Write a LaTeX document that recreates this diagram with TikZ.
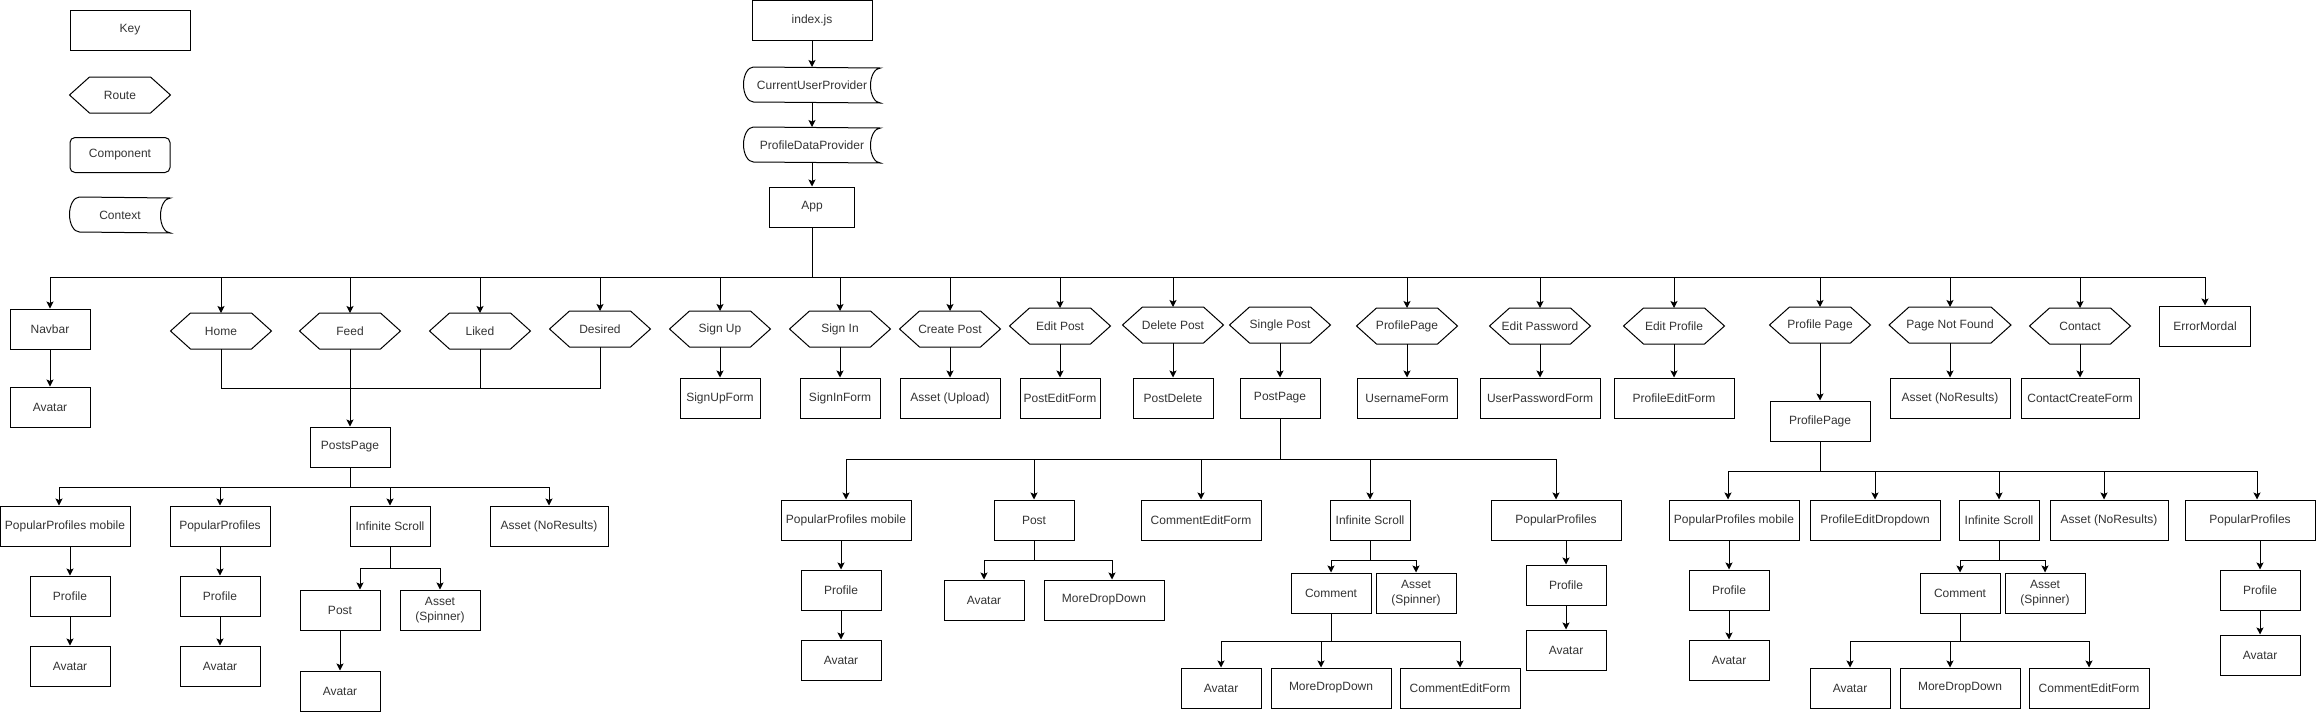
\documentclass[tikz,border=0pt]{standalone}
\usepackage{fontspec}
\setmainfont{Liberation Sans}
\usetikzlibrary{arrows.meta,calc}

\tikzset{
  box/.style={draw, rectangle, minimum width=80pt, minimum height=40pt, inner sep=2pt, align=center},
  route/.style={rectangle, minimum width=100pt, minimum height=35pt, inner sep=1pt,
    append after command={\pgfextra{
      \draw ($(\tikzlastnode.north west)+(20,0)$) -- ($(\tikzlastnode.north east)+(-20,0)$)
        -- (\tikzlastnode.east) -- ($(\tikzlastnode.south east)+(-20,0)$)
        -- ($(\tikzlastnode.south west)+(20,0)$) -- (\tikzlastnode.west) -- cycle;}}},
  comp/.style={draw, rounded corners=5pt, minimum width=100pt, minimum height=35pt},
  ctx/.style={rectangle, minimum width=100pt, minimum height=35pt, inner sep=1pt,
    append after command={\pgfextra{
      \draw ([xshift=10pt]\tikzlastnode.north west)
        arc[start angle=90, end angle=270, x radius=10pt, y radius=17.5pt]
        -- (\tikzlastnode.south east)
        arc[start angle=270, end angle=90, x radius=10pt, y radius=17.5pt] -- cycle;}}},
  arr/.style={-{Stealth[length=7pt,width=7pt,inset=1.5pt]}},
}

\begin{document}
\begin{tikzpicture}[x=1pt, y=-1pt, line width=1pt,
    font=\fontsize{12}{15}\selectfont, text=black!80]
  \useasboundingbox (0,0) rectangle (2316,713);
  % Key
  \node[box, minimum width=120pt] (key) at (130,30) {Key};
  \node[route] (keyroute) at (120,95) {Route};
  \node[comp] (keycomp) at (120,155) {Component};
  \node[ctx] (keyctx) at (120,215) {Context};

  % Entry point and providers
  \node[box, minimum width=120pt] (index) at (812,20) {index.js};
  \node[ctx, minimum width=136pt] (cup) at (812,85) {CurrentUserProvider};
  \node[ctx, minimum width=136pt] (pdp) at (812,145) {ProfileDataProvider};
  \node[box, minimum width=85pt] (app) at (812,207) {App};
  \draw[arr] (index) -- (cup);
  \draw[arr] (cup) -- (pdp);
  \draw[arr] (pdp) -- (app);

  % Routes under App
  \node[box] (navbar) at (50,329) {Navbar};
  \node[route] (home) at (221,331) {Home};
  \node[route] (feed) at (350,331) {Feed};
  \node[route] (liked) at (480,331) {Liked};
  \node[route] (desired) at (600,329) {Desired};
  \node[route] (signup) at (720,329) {Sign Up};
  \node[route] (signin) at (840,329) {Sign In};
  \node[route] (createpost) at (950,329) {Create Post};
  \node[route] (editpost) at (1060,326) {Edit Post};
  \node[route] (deletepost) at (1173,325) {Delete Post};
  \node[route] (singlepost) at (1280,325) {Single Post};
  \node[route] (profileroute) at (1407,326) {ProfilePage};
  \node[route] (editpassword) at (1540,326) {Edit Password};
  \node[route] (editprofile) at (1674,326) {Edit Profile};
  \node[route] (profilepage) at (1820,325) {Profile Page};
  \node[route, minimum width=121pt] (notfound) at (1950,325) {Page Not Found};
  \node[route] (contact) at (2080,326) {Contact};
  \node[box, minimum width=91pt] (errormodal) at (2205,326) {ErrorMordal};
  \coordinate (mainbus) at (812,277);
  \draw (app) -- (mainbus);
  \foreach \n in {navbar,home,feed,liked,desired,signup,signin,createpost,editpost,deletepost,
      profileroute,editpassword,editprofile,profilepage,notfound,contact,errormodal}
    \draw[arr] (mainbus) -| (\n);

  % Components of each route
  \node[box] (navavatar) at (50,407) {Avatar};
  \node[box] (signupform) at (720,398) {SignUpForm};
  \node[box] (signinform) at (840,398) {SignInForm};
  \node[box, minimum width=100pt] (assetupload) at (950,398) {Asset (Upload)};
  \node[box] (posteditform) at (1060,398) {PostEditForm};
  \node[box] (postdelete) at (1173,398) {PostDelete};
  \node[box] (postpage) at (1280,398) {PostPage};
  \node[box, minimum width=100pt] (usernameform) at (1407,398) {UsernameForm};
  \node[box, minimum width=120pt] (userpasswordform) at (1540,398) {UserPasswordForm};
  \node[box, minimum width=120pt] (profileeditform) at (1674,398) {ProfileEditForm};
  \node[box, minimum width=100pt] (profilebox) at (1820,421) {ProfilePage};
  \node[box, minimum width=120pt] (notfoundasset) at (1950,398) {Asset (NoResults)};
  \node[box, minimum width=118pt] (contactform) at (2080,398) {ContactCreateForm};
  \foreach \a/\b in {navbar/navavatar, signup/signupform, signin/signinform, createpost/assetupload,
      editpost/posteditform, deletepost/postdelete, singlepost/postpage, profileroute/usernameform,
      editpassword/userpasswordform, editprofile/profileeditform, profilepage/profilebox,
      notfound/notfoundasset, contact/contactform}
    \draw[arr] (\a) -- (\b);

  % Home, Feed, Liked and Desired share PostsPage
  \node[box] (postspage) at (350,447) {PostsPage};
  \coordinate (feedjoin) at (350,388);
  \foreach \n in {home,liked,desired} \draw (\n) |- (feedjoin);
  \draw[arr] (feed) -- (postspage);

  % PostsPage tree
  \node[box, minimum width=130pt] (ppmob) at (65,526) {PopularProfiles mobile};
  \node[box, minimum width=100pt] (ppop) at (220,526) {PopularProfiles};
  \node[box] (pscroll) at (390,526) {Infinite Scroll};
  \node[box, minimum width=118pt] (pnores) at (549,526) {Asset (NoResults)};
  \node[box] (pmobprof) at (70,596) {Profile};
  \node[box] (pmobav) at (70,666) {Avatar};
  \node[box] (ppopprof) at (220,596) {Profile};
  \node[box] (ppopav) at (220,666) {Avatar};
  \node[box] (ppost) at (340,610) {Post};
  \node[box] (pspin) at (440,610) {Asset\\(Spinner)};
  \node[box] (ppostav) at (340,691) {Avatar};
  \coordinate (postsbus) at (350,487);
  \draw (postspage) -- (postsbus);
  \draw[arr] (postsbus) -| ([xshift=-6pt]ppmob.north);
  \foreach \n in {ppop,pscroll,pnores} \draw[arr] (postsbus) -| (\n);
  \draw[arr] (ppmob.south -| pmobprof) -- (pmobprof);
  \draw[arr] (pmobprof) -- (pmobav);
  \draw[arr] (ppop) -- (ppopprof);
  \draw[arr] (ppopprof) -- (ppopav);
  \coordinate (pscrollbus) at (390,568);
  \draw (pscroll) -- (pscrollbus);
  \draw[arr] (pscrollbus) -| ([xshift=20pt]ppost.north);
  \draw[arr] (pscrollbus) -| (pspin);
  \draw[arr] (ppost) -- (ppostav);

  % PostPage tree
  \node[box, minimum width=130pt] (sppmob) at (846,520) {PopularProfiles mobile};
  \node[box] (spost) at (1034,520) {Post};
  \node[box, minimum width=120pt] (scef) at (1201,520) {CommentEditForm};
  \node[box] (sscroll) at (1370,520) {Infinite Scroll};
  \node[box, minimum width=130pt] (sppop) at (1556,520) {PopularProfiles};
  \node[box] (smobprof) at (841,590) {Profile};
  \node[box] (smobav) at (841,660) {Avatar};
  \node[box] (spostav) at (984,600) {Avatar};
  \node[box, minimum width=120pt] (spostmdd) at (1104,600) {MoreDropDown};
  \node[box] (scomment) at (1331,593) {Comment};
  \node[box] (sspin) at (1416,593) {Asset\\(Spinner)};
  \node[box] (scav) at (1221,688) {Avatar};
  \node[box, minimum width=120pt] (scmdd) at (1331,688) {MoreDropDown};
  \node[box, minimum width=120pt] (sccef) at (1460,688) {CommentEditForm};
  \node[box] (spopprof) at (1566,585) {Profile};
  \node[box] (spopav) at (1566,650) {Avatar};
  \coordinate (sbus) at (1280,459);
  \draw (postpage) -- (sbus);
  \foreach \n in {sppmob,spost,scef,sscroll,sppop} \draw[arr] (sbus) -| (\n);
  \draw[arr] (sppmob.south -| smobprof) -- (smobprof);
  \draw[arr] (smobprof) -- (smobav);
  \coordinate (spostbus) at (1034,560);
  \draw (spost) -- (spostbus);
  \draw[arr] (spostbus) -| (spostav);
  \draw[arr] (spostbus) -| ([xshift=8pt]spostmdd.north);
  \coordinate (sscrollbus) at (1370,560);
  \draw (sscroll) -- (sscrollbus);
  \draw[arr] (sscrollbus) -| (scomment);
  \draw[arr] (sscrollbus) -| (sspin);
  \coordinate (scommentbus) at (1331,641);
  \draw (scomment) -- (scommentbus);
  \draw[arr] (scommentbus) -| (scav);
  \draw[arr] (scommentbus) -| ([xshift=-10pt]scmdd.north);
  \draw[arr] (scommentbus) -| (sccef);
  \draw[arr] (sppop.south -| spopprof) -- (spopprof);
  \draw[arr] (spopprof) -- (spopav);

  % ProfilePage tree
  \node[box, minimum width=130pt] (rppmob) at (1734,520) {PopularProfiles mobile};
  \node[box, minimum width=130pt] (rped) at (1875,520) {ProfileEditDropdown};
  \node[box] (rscroll) at (1999,520) {Infinite Scroll};
  \node[box, minimum width=118pt] (rnores) at (2109,520) {Asset (NoResults)};
  \node[box, minimum width=130pt] (rppop) at (2250,520) {PopularProfiles};
  \node[box] (rmobprof) at (1729,590) {Profile};
  \node[box] (rmobav) at (1729,660) {Avatar};
  \node[box] (rcomment) at (1960,593) {Comment};
  \node[box] (rspin) at (2045,593) {Asset\\(Spinner)};
  \node[box] (rcav) at (1850,688) {Avatar};
  \node[box, minimum width=120pt] (rcmdd) at (1960,688) {MoreDropDown};
  \node[box, minimum width=120pt] (rccef) at (2089,688) {CommentEditForm};
  \node[box] (rpopprof) at (2260,590) {Profile};
  \node[box] (rpopav) at (2260,655) {Avatar};
  \coordinate (rbus) at (1820,471);
  \draw (profilebox) -- (rbus);
  \draw[arr] (rbus) -| ([xshift=-6pt]rppmob.north);
  \draw[arr] (rbus) -| (rped);
  \draw[arr] (rbus) -| (rscroll);
  \draw[arr] (rbus) -| ([xshift=-5pt]rnores.north);
  \draw[arr] (rbus) -| ([xshift=7pt]rppop.north);
  \draw[arr] (rppmob.south -| rmobprof) -- (rmobprof);
  \draw[arr] (rmobprof) -- (rmobav);
  \coordinate (rscrollbus) at (1999,560);
  \draw (rscroll) -- (rscrollbus);
  \draw[arr] (rscrollbus) -| (rcomment);
  \draw[arr] (rscrollbus) -| (rspin);
  \coordinate (rcommentbus) at (1960,641);
  \draw (rcomment) -- (rcommentbus);
  \draw[arr] (rcommentbus) -| (rcav);
  \draw[arr] (rcommentbus) -| ([xshift=-10pt]rcmdd.north);
  \draw[arr] (rcommentbus) -| (rccef);
  \draw[arr] (rppop.south -| rpopprof) -- (rpopprof);
  \draw[arr] (rpopprof) -- (rpopav);
\end{tikzpicture}
\end{document}
